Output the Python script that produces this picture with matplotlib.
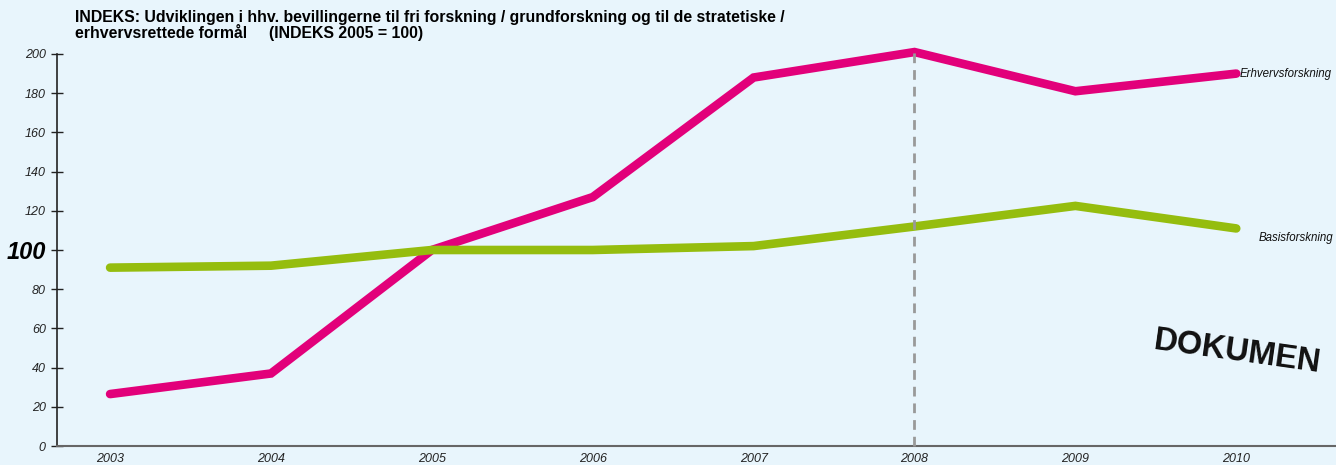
import matplotlib.pyplot as plt

# index values (2005 = 100)
years = [2003, 2004, 2005, 2006, 2007, 2008, 2009, 2010]
erhverv = [26.5, 37, 100, 127, 188, 201, 181, 190]
basis = [91, 92, 100, 100, 102, 112, 122.5, 111]
yticks = [0, 20, 40, 60, 80, 100, 120, 140, 160, 180, 200]

PINK = '#E2007A'
GREEN = '#95BD0E'
BG = '#E8F5FC'
FONT = ['Liberation Sans', 'DejaVu Sans']

fig = plt.figure(figsize=(13.36, 4.65), dpi=100, facecolor=BG)
ax = fig.add_axes([57 / 1336, 19 / 465, 1279 / 1336, 392 / 465])
ax.set_facecolor(BG)

ax.plot(years, erhverv, color=PINK, lw=6.2, solid_capstyle='round',
        solid_joinstyle='miter', clip_on=False, zorder=3)
ax.plot(years, basis, color=GREEN, lw=6.2, solid_capstyle='round',
        solid_joinstyle='miter', clip_on=False, zorder=3)
ax.plot([2008, 2008], [0, 203], color='#999999', lw=2, ls=(0, (3.5, 2.5)),
        clip_on=False, zorder=4)

ax.set_xlim(2002.67, 2010.62)
ax.set_ylim(0, 200)

for s in ['top', 'right']:
    ax.spines[s].set_visible(False)
ax.spines['left'].set_color('#222222')
ax.spines['left'].set_linewidth(1.2)
ax.spines['bottom'].set_color('#666666')
ax.spines['bottom'].set_linewidth(1.5)

ax.set_yticks(yticks)
ax.set_yticklabels([str(v) for v in yticks])
ax.tick_params(axis='y', direction='inout', length=8, width=1, color='#222222',
               pad=4)
for lab in ax.get_yticklabels():
    lab.set_fontstyle('italic')
    lab.set_fontsize(9)
    lab.set_family(FONT)
    lab.set_color('#222222')
    if lab.get_text() == '100':
        lab.set_fontsize(17)
        lab.set_fontweight('bold')
        lab.set_color('black')

ax.set_xticks(years)
ax.set_xticklabels([str(y) for y in years], fontstyle='italic', fontsize=9,
                   color='#222222', family=FONT)
ax.tick_params(axis='x', length=0, pad=5)

ax.text(2010.02, 190, 'Erhvervsforskning', fontstyle='italic', fontsize=8.3,
        va='center', ha='left', color='#111111', family=FONT)
ax.text(2010.14, 106, 'Basisforskning', fontstyle='italic', fontsize=8.3,
        va='center', ha='left', color='#111111', family=FONT)

fig.text(75 / 1336, 1 - 10 / 465,
         'INDEKS: Udviklingen i hhv. bevillingerne til fri forskning / grundforskning og til de stratetiske /\n'
         'erhvervsrettede formål     (INDEKS 2005 = 100)',
         fontsize=11.4, fontweight='bold', va='top', ha='left',
         linespacing=0.9, family=FONT)

fig.text(1152 / 1336, 1 - 352 / 465, 'DOKUMEN', fontsize=23.5, fontweight='bold',
         family=FONT, rotation=-8, va='center', ha='left',
         color='#111111')

fig.savefig('out.png', dpi=100, facecolor=BG)
